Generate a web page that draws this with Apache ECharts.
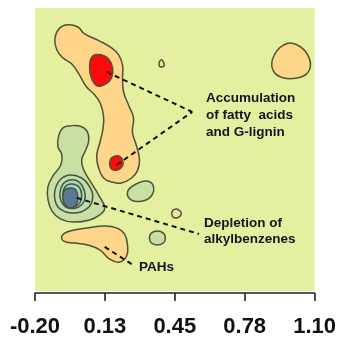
<!DOCTYPE html>
<html>
<head>
<meta charset="utf-8">
<script src="https://cdn.jsdelivr.net/npm/echarts@6/dist/echarts.min.js"></script>
<style>html,body{margin:0;padding:0;background:#fff}#c{width:339px;height:339px}</style>
</head>
<body>
<div id="c"></div>
<script>
// ---- Data (x in axis units, y in hidden score units) ----
const tickValues = [-0.2, 0.125, 0.45, 0.775, 1.1];
const tickLabels = ['-0.20', '0.13', '0.45', '0.78', '1.10'];

const orangeMain = [[-0.084,0.568],[-0.047,0.582],[-0.001,0.572],[0.031,0.540],[0.101,0.507],[0.156,0.475],[0.189,0.443],[0.207,0.396],[0.207,0.336],[0.212,0.271],[0.235,0.211],[0.258,0.151],[0.253,0.086],[0.272,0.021],[0.286,-0.044],[0.276,-0.094],[0.249,-0.127],[0.202,-0.150],[0.156,-0.145],[0.119,-0.127],[0.096,-0.081],[0.087,-0.025],[0.101,0.035],[0.115,0.095],[0.119,0.156],[0.105,0.216],[0.078,0.257],[0.036,0.299],[0.004,0.355],[-0.029,0.401],[-0.070,0.429],[-0.098,0.466],[-0.107,0.521]];
const redUpper = [[0.068,0.438],[0.110,0.443],[0.142,0.424],[0.161,0.382],[0.156,0.336],[0.128,0.308],[0.091,0.299],[0.064,0.332],[0.054,0.387]];
const redLower = [[0.156,-0.034],[0.189,-0.025],[0.207,-0.044],[0.207,-0.071],[0.184,-0.090],[0.156,-0.085],[0.147,-0.057]];
const greenMain = [[-0.038,0.114],[0.008,0.114],[0.041,0.091],[0.050,0.049],[0.036,0.003],[0.017,-0.044],[0.027,-0.090],[0.059,-0.145],[0.096,-0.206],[0.124,-0.266],[0.101,-0.298],[0.054,-0.321],[-0.020,-0.331],[-0.080,-0.317],[-0.121,-0.280],[-0.140,-0.224],[-0.140,-0.168],[-0.117,-0.118],[-0.080,-0.067],[-0.075,-0.020],[-0.094,0.021],[-0.089,0.072],[-0.070,0.105]];
const greenRing2 = [[-0.107,-0.183],[-0.084,-0.136],[-0.038,-0.113],[0.017,-0.127],[0.054,-0.168],[0.068,-0.219],[0.045,-0.266],[-0.024,-0.289],[-0.084,-0.270],[-0.107,-0.229]];
const greenRing3 = [[-0.084,-0.196],[-0.070,-0.155],[-0.038,-0.136],[0.004,-0.145],[0.031,-0.192],[0.027,-0.238],[-0.010,-0.266],[-0.057,-0.261],[-0.080,-0.229]];
const greenRing4 = [[-0.070,-0.192],[-0.057,-0.164],[-0.029,-0.155],[0.004,-0.168],[0.017,-0.206],[0.008,-0.243],[-0.024,-0.261],[-0.057,-0.247],[-0.070,-0.219]];
const blueCore = [[-0.061,-0.182],[-0.033,-0.173],[-0.010,-0.182],[-0.001,-0.215],[-0.006,-0.247],[-0.029,-0.266],[-0.057,-0.256],[-0.070,-0.224]];
const orangePAH = [[-0.075,-0.395],[-0.038,-0.372],[0.045,-0.358],[0.124,-0.349],[0.179,-0.358],[0.216,-0.386],[0.230,-0.437],[0.226,-0.488],[0.193,-0.516],[0.147,-0.502],[0.101,-0.460],[0.045,-0.437],[-0.015,-0.428],[-0.066,-0.419]];
const greenSmallA = [[0.230,-0.192],[0.263,-0.159],[0.318,-0.141],[0.350,-0.164],[0.341,-0.210],[0.300,-0.233],[0.249,-0.229]];
const greenSmallB = [[0.369,-0.372],[0.397,-0.382],[0.406,-0.405],[0.397,-0.428],[0.369,-0.437],[0.341,-0.428],[0.332,-0.405],[0.341,-0.382]];
const paleTinyA = [[0.457,-0.270],[0.475,-0.280],[0.480,-0.293],[0.471,-0.307],[0.452,-0.312],[0.438,-0.303],[0.438,-0.280]];
const paleTinyB = [[0.388,0.420],[0.397,0.410],[0.401,0.396],[0.392,0.387],[0.378,0.392],[0.378,0.410]];
const orangeRight = [[0.989,0.498],[1.035,0.480],[1.068,0.443],[1.081,0.396],[1.063,0.355],[1.017,0.336],[0.957,0.336],[0.915,0.359],[0.901,0.406],[0.924,0.461],[0.957,0.489]];

// leader lines: [start, end]
const leaderFattyUpper = [[0.133,0.364],[0.531,0.179]];
const leaderFattyLower = [[0.179,-0.067],[0.531,0.179]];
const leaderAlkyl = [[-0.006,-0.219],[0.563,-0.386]];
const leaderPAH = [[0.124,-0.446],[0.263,-0.534]];

// ---- styling / assembly ----
const layers = [
  {pts: orangeMain, fill: '#fdd68a'},
  {pts: redUpper, fill: '#ff0a0a'},
  {pts: redLower, fill: '#ff0a0a'},
  {pts: greenMain, fill: '#c9dfa3'},
  {pts: greenRing2, fill: '#bde0b0'},
  {pts: greenRing3, fill: '#a9dcbf'},
  {pts: greenRing4, fill: '#9fd8c6'},
  {pts: blueCore, fill: '#5a7898'},
  {pts: orangePAH, fill: '#fdd68a'},
  {pts: greenSmallA, fill: '#c9dfa3'},
  {pts: greenSmallB, fill: '#c9dfa3'},
  {pts: paleTinyA, fill: '#f3e0a0'},
  {pts: paleTinyB, fill: '#f3dc98'},
  {pts: orangeRight, fill: '#fdd68a'}
];
const leaders = [leaderFattyUpper, leaderFattyLower, leaderAlkyl, leaderPAH];

const chart = echarts.init(document.getElementById('c'), null, {renderer: 'canvas'});
const txtFont = '"Liberation Sans", Arial, sans-serif';
chart.setOption({
  animation: false,
  backgroundColor: '#ffffff',
  grid: {left: 35, right: 23, top: 8, bottom: 48, show: true, backgroundColor: '#e4f0a0', borderWidth: 0},
  xAxis: {
    type: 'value', min: -0.2, max: 1.1, offset: 2, position: 'bottom',
    splitLine: {show: false},
    axisLine: {show: true, onZero: false, lineStyle: {color: '#222', width: 1.6}},
    axisTick: {show: true, customValues: tickValues, length: 8, lineStyle: {color: '#222', width: 1.6}},
    axisLabel: {
      customValues: tickValues, margin: 23,
      fontSize: 22, fontWeight: 'bold', color: '#111', fontFamily: txtFont,
      formatter: function (v) {
        const i = tickValues.findIndex(t => Math.abs(t - v) < 1e-6);
        return i >= 0 ? tickLabels[i] : '';
      }
    }
  },
  yAxis: {type: 'value', min: -0.65, max: 0.66, show: false},
  series: [
    {
      type: 'custom', coordinateSystem: 'cartesian2d', clip: false,
      data: layers.map(l => l.pts[0]),
      renderItem: function (params, api) {
        const l = layers[params.dataIndex];
        return {
          type: 'polygon',
          shape: {points: l.pts.map(p => api.coord(p)), smooth: 0.45},
          style: {fill: l.fill, stroke: '#4e5238', lineWidth: 1.5}
        };
      }
    },
    {
      type: 'custom', coordinateSystem: 'cartesian2d', clip: false,
      data: leaders.map(s => s[0]),
      renderItem: function (params, api) {
        const s = leaders[params.dataIndex];
        const a = api.coord(s[0]), b = api.coord(s[1]);
        return {
          type: 'line',
          shape: {x1: a[0], y1: a[1], x2: b[0], y2: b[1]},
          style: {stroke: '#111', lineWidth: 2, lineDash: [5, 4]}
        };
      }
    }
  ],
  graphic: [
    {type: 'text', left: 206, top: 90, style: {text: 'Accumulation\nof fatty  acids\nand G-lignin', font: 'bold 13.5px ' + txtFont, lineHeight: 17, fill: '#14141e'}},
    {type: 'text', left: 204, top: 215, style: {text: 'Depletion of\nalkylbenzenes', font: 'bold 13.5px ' + txtFont, lineHeight: 16, fill: '#14141e'}},
    {type: 'text', left: 139, top: 259, style: {text: 'PAHs', font: 'bold 13.5px ' + txtFont, lineHeight: 16, fill: '#14141e'}}
  ]
});
</script>
</body>
</html>
